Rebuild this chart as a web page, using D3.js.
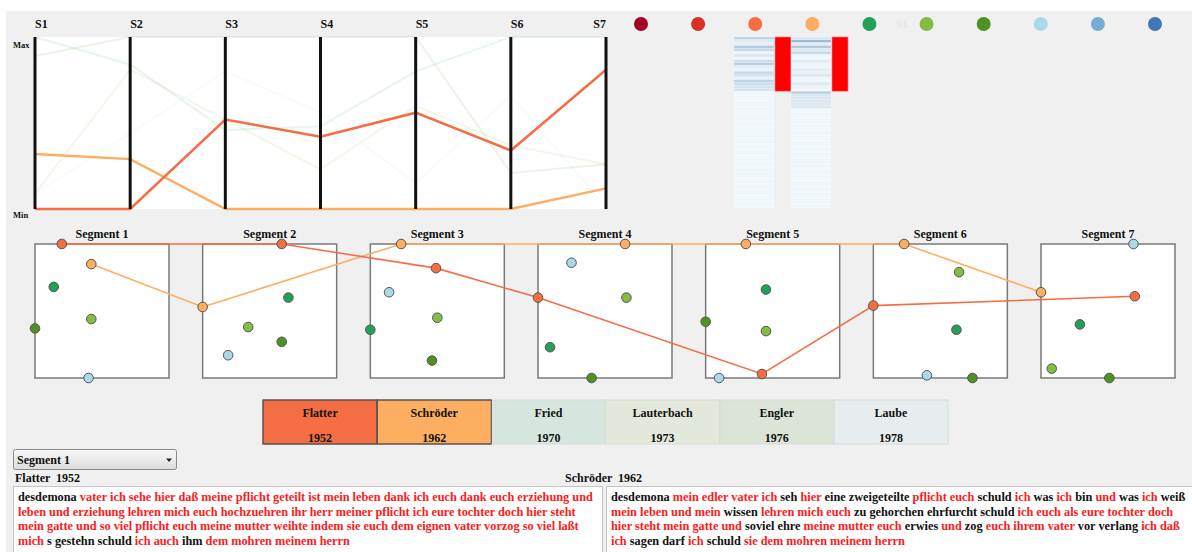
<!DOCTYPE html>
<html lang="de">
<head>
<meta charset="UTF-8"/>
<title>Othello – Übersetzungsvergleich</title>
<script src="https://d3js.org/d3.v7.min.js" charset="utf-8"></script>
<style type="text/css">
    body { margin: 0; background: #fff; }
    text { font-family: "Liberation Serif", "Times New Roman", serif; font-weight: bold; }
    .pc-axis { stroke: #111; stroke-width: 3px; }
    .panel { fill: #fff; stroke: #7a7a7a; stroke-width: 1.5px; }
    .seg-dot { stroke: #555; stroke-width: 1px; }
</style>
</head>
<body>
<svg id="chart" width="1192" height="552"></svg>
<script type="text/javascript">

    // --- data ---
    var translators = ["Flatter", "Schröder", "Fried", "Lauterbach", "Engler", "Laube"];
    var years = [1952, 1962, 1970, 1973, 1976, 1978];
    var trColors = ["#f46d43", "#fdae61", "#22a05a", "#84bd41", "#4e9222", "#abd9e9"];
    var selected = ["Flatter", "Schröder"];
    var segments = ["S1", "S2", "S3", "S4", "S5", "S6", "S7"];
    var segmentNames = ["Segment 1", "Segment 2", "Segment 3", "Segment 4", "Segment 5", "Segment 6", "Segment 7"];
    var palette = ["#a50026", "#d73027", "#f46d43", "#fdae61", "#22a05a", "#84bd41", "#4e9222", "#abd9e9", "#74add1", "#4575b4"];

    // parallel coordinates (0 = Min, 1 = Max)
    var pcFlatter    = [0.00, 0.00, 0.52, 0.42, 0.56, 0.34, 0.81];
    var pcSchroeder  = [0.32, 0.29, 0.00, 0.00, 0.00, 0.00, 0.12];
    var pcFried      = [1.00, 0.84, 0.46, 0.48, 0.80, 1.00, 1.00];
    var pcLauterbach = [0.09, 0.81, 0.52, 0.23, 0.60, 0.37, 0.26];
    var pcEngler     = [0.89, 1.00, 1.00, 1.00, 1.00, 0.21, 0.26];
    var pcLaube      = [0.09, 0.44, 0.80, 0.56, 0.15, 0.66, 0.01];

    // positions inside each segment panel [x, y]
    var segFlatter    = [[0.20, 0.00], [0.59, 0.00], [0.49, 0.18], [0.00, 0.40], [0.42, 0.97], [0.00, 0.46], [0.70, 0.39]];
    var segSchroeder  = [[0.42, 0.15], [0.00, 0.47], [0.23, 0.00], [0.65, 0.00], [0.30, 0.00], [0.23, 0.00], [0.00, 0.36]];
    var segFried      = [[0.14, 0.32], [0.64, 0.40], [0.00, 0.64], [0.09, 0.77], [0.45, 0.34], [0.62, 0.64], [0.29, 0.60]];
    var segLauterbach = [[0.42, 0.56], [0.34, 0.62], [0.50, 0.55], [0.66, 0.40], [0.45, 0.65], [0.64, 0.21], [0.08, 0.93]];
    var segEngler     = [[0.00, 0.63], [0.59, 0.73], [0.46, 0.87], [0.40, 1.00], [0.00, 0.58], [0.74, 1.00], [0.51, 1.00]];
    var segLaube      = [[0.40, 1.00], [0.19, 0.83], [0.14, 0.36], [0.25, 0.14], [0.10, 1.00], [0.40, 0.98], [0.69, 0.00]];

    // line similarity heatmap, one value per row
    var heatFlatter = [0.25, 0.12, 0.08, 0.30, 0.22, 0.06, 0.15, 0.05, 0.20, 0.28, 0.10, 0.06, 0.22, 0.18, 0.08, 0.25, 0.20, 0.16, 0.16,
        0.03, 0.02, 0.03, 0.02, 0.03, 0.02, 0.03, 0.02, 0.03, 0.03, 0.02, 0.03, 0.02, 0.03, 0.02, 0.03, 0.02, 0.03, 0.02, 0.03, 0.02,
        0.03, 0.02, 0.03, 0.02, 0.03, 0.02, 0.03, 0.02, 0.03, 0.02, 0.03, 0.02, 0.03, 0.02, 0.03, 0.02, 0.03, 0.02, 0.03, 0.02];
    var heatSchroeder = [0.15, 0.38, 0.10, 0.30, 0.12, 0.22, 0.05, 0.04, 0.12, 0.06, 0.05, 0.10, 0.08, 0.15, 0.05, 0.04, 0.12, 0.06, 0.05,
        0.28, 0.15, 0.14, 0.14, 0.14, 0.14, 0.03, 0.02, 0.03, 0.02, 0.03, 0.02, 0.03, 0.02, 0.03, 0.02, 0.03, 0.02, 0.03, 0.02, 0.03,
        0.02, 0.03, 0.02, 0.03, 0.02, 0.03, 0.02, 0.03, 0.02, 0.03, 0.02, 0.03, 0.02, 0.03, 0.02, 0.03, 0.02, 0.03, 0.02, 0.03];
    var heatSegmentRows = 19;

    // segment 1 texts: [words, matched]
    var textFlatter = [
        [["desdemona", 0], ["vater ich sehe hier daß meine pflicht geteilt ist mein leben dank ich euch dank euch erziehung und", 1]],
        [["leben und erziehung lehren mich euch hochzuehren ihr herr meiner pflicht ich eure tochter doch hier steht", 1]],
        [["mein gatte und so viel pflicht euch meine mutter weihte indem sie euch dem eignen vater vorzog so viel laßt", 1]],
        [["mich", 1], ["s gestehn schuld", 0], ["ich auch", 1], ["ihm", 0], ["dem mohren meinem herrn", 1]]
    ];
    var textSchroeder = [
        [["desdemona", 0], ["mein edler vater ich", 1], ["seh", 0], ["hier", 1], ["eine zweigeteilte", 0], ["pflicht euch", 1], ["schuld", 0],
            ["ich", 1], ["was", 0], ["ich", 1], ["bin", 0], ["und", 1], ["was", 0], ["ich", 1], ["weiß", 0]],
        [["mein leben und mein", 1], ["wissen", 0], ["lehren mich euch", 1], ["zu gehorchen ehrfurcht schuld", 0], ["ich euch als eure tochter doch", 1]],
        [["hier steht mein gatte und", 1], ["soviel ehre", 0], ["meine mutter euch", 1], ["erwies", 0], ["und", 1], ["zog", 0],
            ["euch ihrem vater", 1], ["vor verlang", 0], ["ich daß", 1]],
        [["ich", 1], ["sagen darf", 0], ["ich", 1], ["schuld", 0], ["sie dem mohren meinem herrn", 1]]
    ];

    var pcValues = [pcFlatter, pcSchroeder, pcFried, pcLauterbach, pcEngler, pcLaube];
    var segValues = [segFlatter, segSchroeder, segFried, segLauterbach, segEngler, segLaube];

    var svg = d3.select("#chart");
    svg.append("rect").attr("x", 6).attr("y", 11).attr("width", 1186).attr("height", 541).attr("fill", "#f0f0f0");

    // --- parallel coordinates ---
    var px = d3.scalePoint().domain(segments).range([35, 606]);
    var py = d3.scaleLinear().domain([0, 1]).range([209, 37]);

    svg.append("rect").attr("x", px("S1")).attr("y", py(1))
        .attr("width", px("S7") - px("S1")).attr("height", py(0) - py(1)).attr("fill", "#fff");

    var pcLine = d3.line().x(function(d, i) { return px(segments[i]); }).y(function(d) { return py(d); });
    // faded translators first, selected on top
    var order = [2, 3, 4, 5, 1, 0];
    order.forEach(function(k) {
        var sel = selected.indexOf(translators[k]) >= 0;
        svg.append("path").datum(pcValues[k])
            .attr("d", pcLine)
            .attr("fill", "none")
            .attr("stroke", trColors[k])
            .attr("stroke-width", sel ? 2.5 : 2)
            .attr("stroke-opacity", sel ? 1 : 0.11);
    });

    svg.selectAll(".pc-axis").data(segments).enter().append("line")
        .attr("class", "pc-axis")
        .attr("x1", function(d) { return px(d); }).attr("x2", function(d) { return px(d); })
        .attr("y1", py(1)).attr("y2", py(0));

    svg.selectAll(".pc-label").data(segments).enter().append("text")
        .attr("x", function(d) { return px(d); })
        .attr("y", 28)
        .attr("text-anchor", function(d, i) { return i === segments.length - 1 ? "end" : "start"; })
        .style("font-size", "12px").attr("fill", "#111")
        .text(function(d) { return d; });

    svg.append("text").attr("x", 13).attr("y", 48).style("font-size", "8.5px").attr("fill", "#111").text("Max");
    svg.append("text").attr("x", 13).attr("y", 218).style("font-size", "8.5px").attr("fill", "#111").text("Min");

    // --- colour legend dots ---
    var dx = d3.scalePoint().domain(d3.range(palette.length)).range([641, 1155]);
    svg.selectAll(".pal").data(palette).enter().append("circle")
        .attr("cx", function(d, i) { return dx(i); }).attr("cy", 24).attr("r", 7)
        .attr("fill", function(d) { return d; });
    svg.append("text").attr("x", 902).attr("y", 28).attr("text-anchor", "middle")
        .style("font-size", "12px").attr("fill", "#e4e6ea").text("S1");

    // --- heatmap ---
    var hy = d3.scaleBand().domain(d3.range(heatFlatter.length)).range([37, 208]);
    var heatCols = [{vals: heatFlatter, x: 734}, {vals: heatSchroeder, x: 791}];
    heatCols.forEach(function(c) {
        svg.append("g").selectAll("rect").data(c.vals).enter().append("rect")
            .attr("x", c.x).attr("width", 40)
            .attr("y", function(d, i) { return hy(i); })
            .attr("height", hy.bandwidth())
            .attr("fill", function(d) { return d3.interpolateBuPu(d); })
            .attr("stroke", "#eef4f6").attr("stroke-width", 0.3);
        svg.append("rect").attr("x", c.x + 41).attr("y", hy(0))
            .attr("width", 16).attr("height", hy(heatSegmentRows) - hy(0))
            .attr("fill", "#ff0000").attr("stroke", "#ff8080").attr("stroke-width", 0.6);
    });

    // --- segment panels ---
    var panelSize = 134;
    var sx = d3.scaleLinear().domain([0, 6]).range([35, 1041]);
    var inner = d3.scaleLinear().domain([0, 1]).range([0, panelSize]);
    var panelTop = 244;

    segmentNames.forEach(function(name, i) {
        svg.append("rect").attr("class", "panel")
            .attr("x", sx(i)).attr("y", panelTop).attr("width", panelSize).attr("height", panelSize);
        svg.append("text").attr("x", sx(i) + panelSize / 2).attr("y", 238)
            .attr("text-anchor", "middle").style("font-size", "12px").attr("fill", "#111").text(name);
    });

    function segPoint(p, i) { return [sx(i) + inner(p[0]), panelTop + inner(p[1])]; }

    [1, 0].forEach(function(k) {
        svg.append("path").datum(segValues[k].map(segPoint))
            .attr("d", d3.line())
            .attr("fill", "none").attr("stroke", trColors[k]).attr("stroke-width", 1.6);
    });

    [5, 4, 3, 2, 1, 0].forEach(function(k) {
        svg.append("g").selectAll("circle").data(segValues[k].map(segPoint)).enter().append("circle")
            .attr("class", "seg-dot")
            .attr("cx", function(d) { return d[0]; }).attr("cy", function(d) { return d[1]; })
            .attr("r", 4.8).attr("fill", trColors[k]);
    });

    // --- translator table ---
    var tx = d3.scaleBand().domain(translators).range([263, 948]);
    var cells = svg.append("g").selectAll("g").data(translators).enter().append("g");
    cells.append("rect")
        .attr("x", function(d) { return tx(d); }).attr("y", 400)
        .attr("width", tx.bandwidth()).attr("height", 44)
        .attr("fill", function(d, i) { return trColors[i]; })
        .attr("fill-opacity", function(d) { return selected.indexOf(d) >= 0 ? 1 : 0.12; })
        .attr("stroke", function(d) { return selected.indexOf(d) >= 0 ? "#555" : "#d8dcd8"; })
        .attr("stroke-width", 1);
    cells.append("text")
        .attr("x", function(d) { return tx(d) + tx.bandwidth() / 2; }).attr("y", 417)
        .attr("text-anchor", "middle").style("font-size", "12px").attr("fill", "#111")
        .text(function(d) { return d; });
    cells.append("text")
        .attr("x", function(d) { return tx(d) + tx.bandwidth() / 2; }).attr("y", 442)
        .attr("text-anchor", "middle").style("font-size", "12px").attr("fill", "#111")
        .text(function(d, i) { return years[i]; });
    // redraw selected borders on top
    svg.selectAll(".selborder").data(selected).enter().append("rect")
        .attr("x", function(d) { return tx(d); }).attr("y", 400)
        .attr("width", tx.bandwidth()).attr("height", 44)
        .attr("fill", "none").attr("stroke", "#555").attr("stroke-width", 1);

    // --- dropdown ---
    var grad = svg.append("defs").append("linearGradient").attr("id", "ddg")
        .attr("x1", 0).attr("x2", 0).attr("y1", 0).attr("y2", 1);
    grad.append("stop").attr("offset", "0%").attr("stop-color", "#fafafa");
    grad.append("stop").attr("offset", "100%").attr("stop-color", "#dcdcdc");
    svg.append("rect").attr("x", 13.5).attr("y", 449.5).attr("width", 163).attr("height", 20).attr("rx", 2)
        .attr("fill", "url(#ddg)").attr("stroke", "#8a8a8a");
    svg.append("text").attr("x", 17).attr("y", 463.5).style("font-size", "12px").attr("fill", "#111").text(segmentNames[0]);
    svg.append("path").attr("d", "M166,458.5 L172,458.5 L169,462 Z").attr("fill", "#222");

    // --- text comparison ---
    var boxes = [
        {tr: 0, lines: textFlatter, x: 13, w: 589, labelX: 15},
        {tr: 1, lines: textSchroeder, x: 606, w: 586, labelX: 565}
    ];
    boxes.forEach(function(b) {
        svg.append("text").attr("x", b.labelX).attr("y", 482).style("font-size", "12px").attr("fill", "#111")
            .style("white-space", "pre")
            .text(translators[b.tr] + "  " + years[b.tr]);
        svg.append("rect").attr("x", b.x + 0.5).attr("y", 486.5).attr("width", b.w).attr("height", 70)
            .attr("fill", "#fff").attr("stroke", "#c4c4c4");
        b.lines.forEach(function(line, li) {
            var t = svg.append("text").attr("x", b.x + 5).attr("y", 501 + li * 14.7)
                .style("font-size", "12.3px").style("white-space", "pre");
            line.forEach(function(w, wi) {
                t.append("tspan")
                    .attr("fill", w[1] ? "#ff1a1a" : "#111")
                    .text(w[0] + (wi < line.length - 1 ? " " : ""));
            });
        });
    });

</script>
</body>
</html>
